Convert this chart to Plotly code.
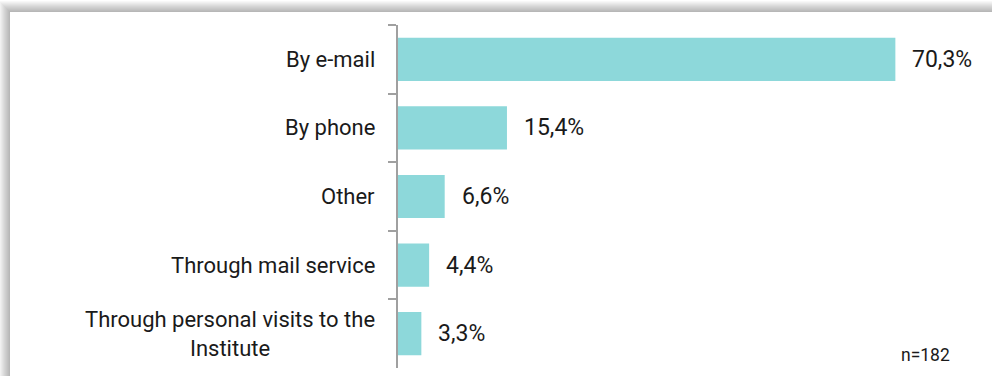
import plotly.graph_objects as go

# Survey answers: how respondents contacted the Institute
categories = [
    "By e-mail",
    "By phone",
    "Other",
    "Through mail service",
    "Through personal visits to the<br>Institute",
]
shares = [70.3, 15.4, 6.6, 4.4, 3.3]
value_labels = ["70,3%", "15,4%", "6,6%", "4,4%", "3,3%"]
sample_note = "n=182"

FONT = "Liberation Sans Narrow, Arial Narrow, Roboto, sans-serif"
BAR = "#8dd8da"
TEXT = "#1a1a1a"
AXIS = "#a0a0a0"

W, H = 992, 376
ML, MR, MT, MB = 398, 28, 25, 8
PW, PH = W - ML - MR, H - MT - MB


def px_x(px):
    return (px - ML) / PW


def px_y(py):
    return (H - MB - py) / PH


fig = go.Figure()
fig.add_trace(go.Bar(
    x=shares,
    y=categories,
    orientation="h",
    marker=dict(color=BAR, line=dict(width=0)),
    hoverinfo="skip",
))

annotations = []
for cat, val, lab in zip(categories, shares, value_labels):
    annotations.append(dict(
        x=val, y=cat, xref="x", yref="y", text=lab, showarrow=False,
        xanchor="left", yanchor="middle", xshift=15,
        font=dict(family=FONT, size=23, color=TEXT),
    ))
    annotations.append(dict(
        x=px_x(377), y=cat, xref="paper", yref="y", text=cat, showarrow=False,
        xanchor="right", yanchor="middle", align="center",
        font=dict(family=FONT, size=22, color=TEXT),
    ))
annotations.append(dict(
    x=px_x(952), y=px_y(367), xref="paper", yref="paper", text=sample_note,
    showarrow=False, xanchor="right", yanchor="bottom",
    font=dict(family=FONT, size=17.5, color=TEXT),
))

# soft drop shadow around the white panel (top and left edges)
shapes = []
for k in range(1, 12):
    shapes.append(dict(
        type="rect", xref="paper", yref="paper", layer="below",
        x0=px_x(10 - k), x1=px_x(W + 20), y0=px_y(H + 20), y1=px_y(12 - k),
        fillcolor="rgba(0,0,0,0.028)", line=dict(width=0),
    ))
shapes.append(dict(
    type="rect", xref="paper", yref="paper", layer="below",
    x0=px_x(10), x1=px_x(W + 20), y0=px_y(H + 20), y1=px_y(12),
    fillcolor="white", line=dict(width=0),
))

fig.update_layout(
    width=W, height=H,
    margin=dict(l=ML, r=MR, t=MT, b=MB),
    paper_bgcolor="white", plot_bgcolor="rgba(0,0,0,0)",
    showlegend=False,
    bargap=0.37,
    annotations=annotations,
    shapes=shapes,
    xaxis=dict(range=[0, 80], visible=False, fixedrange=True),
    yaxis=dict(
        type="category", autorange="reversed",
        showticklabels=False, showgrid=False, zeroline=False,
        showline=True, linecolor=AXIS, linewidth=2,
        ticks="outside", tickson="boundaries", ticklen=8,
        tickcolor=AXIS, tickwidth=2,
    ),
)

fig.write_html("out.html")
